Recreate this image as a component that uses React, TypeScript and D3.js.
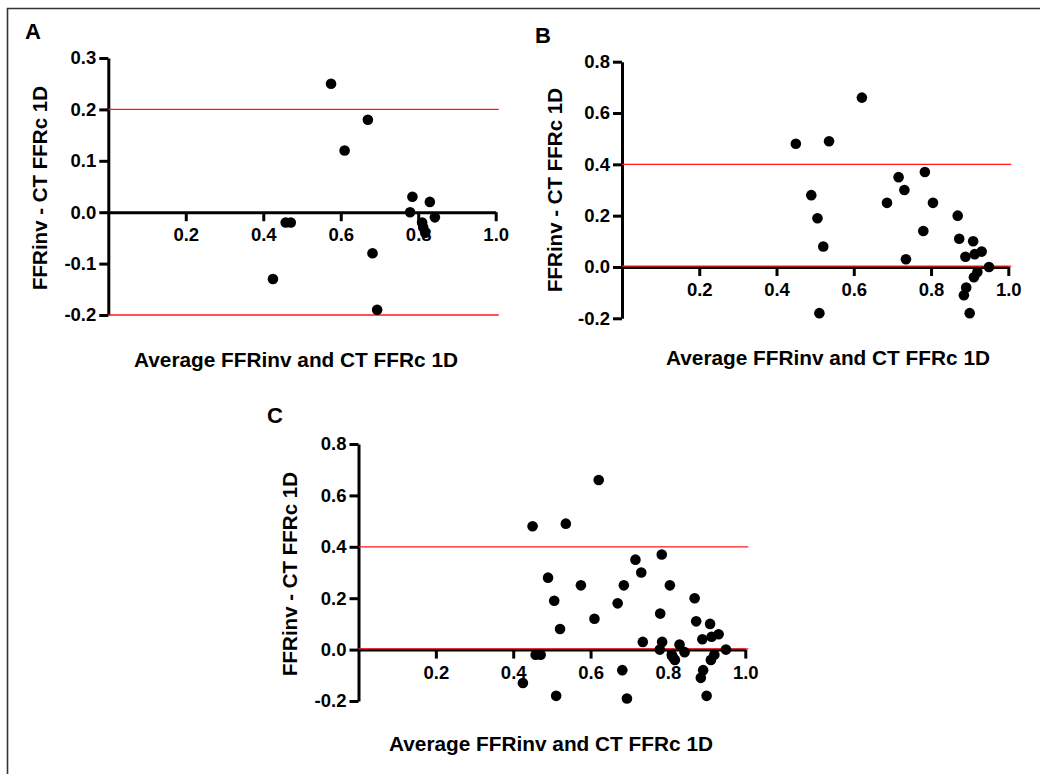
import React, { useEffect, useRef } from 'react'
import * as d3 from 'd3'

// Panel A: average of FFRinv and CT FFRc 1D vs their difference
const avgA = [0.575, 0.67, 0.61, 0.785, 0.83, 0.779, 0.843, 0.81, 0.813, 0.818, 0.458, 0.471, 0.682, 0.425, 0.694]
const diffA = [0.25, 0.18, 0.12, 0.03, 0.02, 0.0, -0.01, -0.02, -0.03, -0.04, -0.02, -0.02, -0.08, -0.13, -0.19]

// Panel B
const avgB = [0.621, 0.45, 0.536, 0.784, 0.716, 0.731, 0.686, 0.805, 0.49, 0.506, 0.521, 0.78, 0.735,
  0.869, 0.873, 0.909, 0.889, 0.913, 0.931, 0.95, 0.92, 0.911, 0.891, 0.885, 0.9, 0.511]
const diffB = [0.66, 0.48, 0.49, 0.37, 0.35, 0.3, 0.25, 0.25, 0.28, 0.19, 0.08, 0.14, 0.03,
  0.2, 0.11, 0.1, 0.04, 0.05, 0.06, 0.0, -0.02, -0.04, -0.08, -0.11, -0.18, -0.18]

// Panel C pools A and B
const avgC = [...avgA, ...avgB]
const diffC = [...diffA, ...diffB]

const xTicks = [0.2, 0.4, 0.6, 0.8, 1.0]
const yTicksA = [0.3, 0.2, 0.1, 0.0, -0.1, -0.2]
const yTicksBC = [0.8, 0.6, 0.4, 0.2, 0.0, -0.2]
const limitsA = [0.2, -0.2]
const limitsBC = [0.4, 0.0]

const xTitle = 'Average FFRinv and CT FFRc 1D'
const yTitle = 'FFRinv - CT FFRc 1D'

const FONT = "'Liberation Sans', Arial, Helvetica, sans-serif"

type Panel = {
  label: string
  avg: number[]
  diff: number[]
  yTicks: number[]
  limits: number[]
  left: number
  right: number
  top: number
  bottom: number
  labelPos: [number, number]
  xTitlePos: [number, number]
  yTitlePos: [number, number]
}

const panels: Panel[] = [
  {
    label: 'A', avg: avgA, diff: diffA, yTicks: yTicksA, limits: limitsA,
    left: 108.3, right: 495.7, top: 58, bottom: 315,
    labelPos: [25, 38.5], xTitlePos: [296, 366.5], yTitlePos: [47, 188],
  },
  {
    label: 'B', avg: avgB, diff: diffB, yTicks: yTicksBC, limits: limitsBC,
    left: 622, right: 1008.3, top: 61.7, bottom: 318.3,
    labelPos: [535, 43], xTitlePos: [828, 365], yTitlePos: [561.5, 190],
  },
  {
    label: 'C', avg: avgC, diff: diffC, yTicks: yTicksBC, limits: limitsBC,
    left: 358.5, right: 745.3, top: 444, bottom: 701,
    labelPos: [267, 423], xTitlePos: [551, 751], yTitlePos: [297, 574],
  },
]

const fmt = (v: number) => v.toFixed(1)

function drawPanel(svg: d3.Selection<SVGSVGElement, unknown, null, undefined>, p: Panel) {
  const g = svg.append('g')
  const x = d3.scaleLinear().domain([0, 1]).range([p.left, p.right])
  const yExt = d3.extent(p.yTicks) as [number, number]
  const y = d3.scaleLinear().domain(yExt).range([p.bottom, p.top])

  // y axis
  const ya = g.append('g')
    .attr('transform', `translate(${x(0)},0)`)
    .call(d3.axisLeft(y).tickValues(p.yTicks).tickFormat(fmt).tickSize(9).tickSizeOuter(0).tickPadding(3))
  // x axis sits at zero difference
  const xa = g.append('g')
    .attr('transform', `translate(0,${y(0)})`)
    .call(d3.axisBottom(x).tickValues(xTicks).tickFormat(fmt).tickSize(9).tickSizeOuter(0).tickPadding(7))

  for (const a of [ya, xa]) {
    a.attr('font-family', FONT).attr('font-size', 18.5).attr('font-weight', 'bold')
    a.selectAll('path, line').attr('stroke', '#000').attr('stroke-width', 3)
    a.selectAll('text').attr('fill', '#000')
  }

  // limit lines
  g.selectAll('line.limit')
    .data(p.limits)
    .enter()
    .append('line')
    .attr('class', 'limit')
    .attr('x1', x(0))
    .attr('x2', x(1) + 3)
    .attr('y1', (d) => y(d) - (d === 0 ? 0.8 : 0))
    .attr('y2', (d) => y(d) - (d === 0 ? 0.8 : 0))
    .attr('stroke', '#ff1a1a')
    .attr('stroke-width', 1.3)

  // points
  g.selectAll('circle')
    .data(p.avg.map((a, i) => [a, p.diff[i]]))
    .enter()
    .append('circle')
    .attr('cx', (d) => x(d[0]))
    .attr('cy', (d) => y(d[1]))
    .attr('r', 5.3)
    .attr('fill', '#000')

  // panel letter
  g.append('text')
    .attr('x', p.labelPos[0])
    .attr('y', p.labelPos[1])
    .attr('font-family', FONT)
    .attr('font-weight', 'bold')
    .attr('font-size', 22)
    .text(p.label)

  g.append('text')
    .attr('x', p.xTitlePos[0])
    .attr('y', p.xTitlePos[1])
    .attr('text-anchor', 'middle')
    .attr('font-family', FONT)
    .attr('font-weight', 'bold')
    .attr('font-size', 20.8)
    .text(xTitle)

  g.append('text')
    .attr('transform', `translate(${p.yTitlePos[0]},${p.yTitlePos[1]}) rotate(-90)`)
    .attr('text-anchor', 'middle')
    .attr('font-family', FONT)
    .attr('font-weight', 'bold')
    .attr('font-size', 20.5)
    .text(yTitle)
}

export default function App() {
  const ref = useRef<SVGSVGElement>(null)

  useEffect(() => {
    document.body.style.margin = '0'
    const svg = d3.select(ref.current as SVGSVGElement)
    svg.selectAll('*').remove()

    svg.append('rect').attr('width', 1040).attr('height', 774).attr('fill', '#fff')
    // figure frame (top and left edges only)
    svg.append('path')
      .attr('d', 'M7.5,774 V8.5 H1040')
      .attr('fill', 'none')
      .attr('stroke', '#333')
      .attr('stroke-width', 1.6)

    panels.forEach((p) => drawPanel(svg, p))
  }, [])

  return <svg ref={ref} width={1040} height={774} style={{ display: 'block' }} />
}
